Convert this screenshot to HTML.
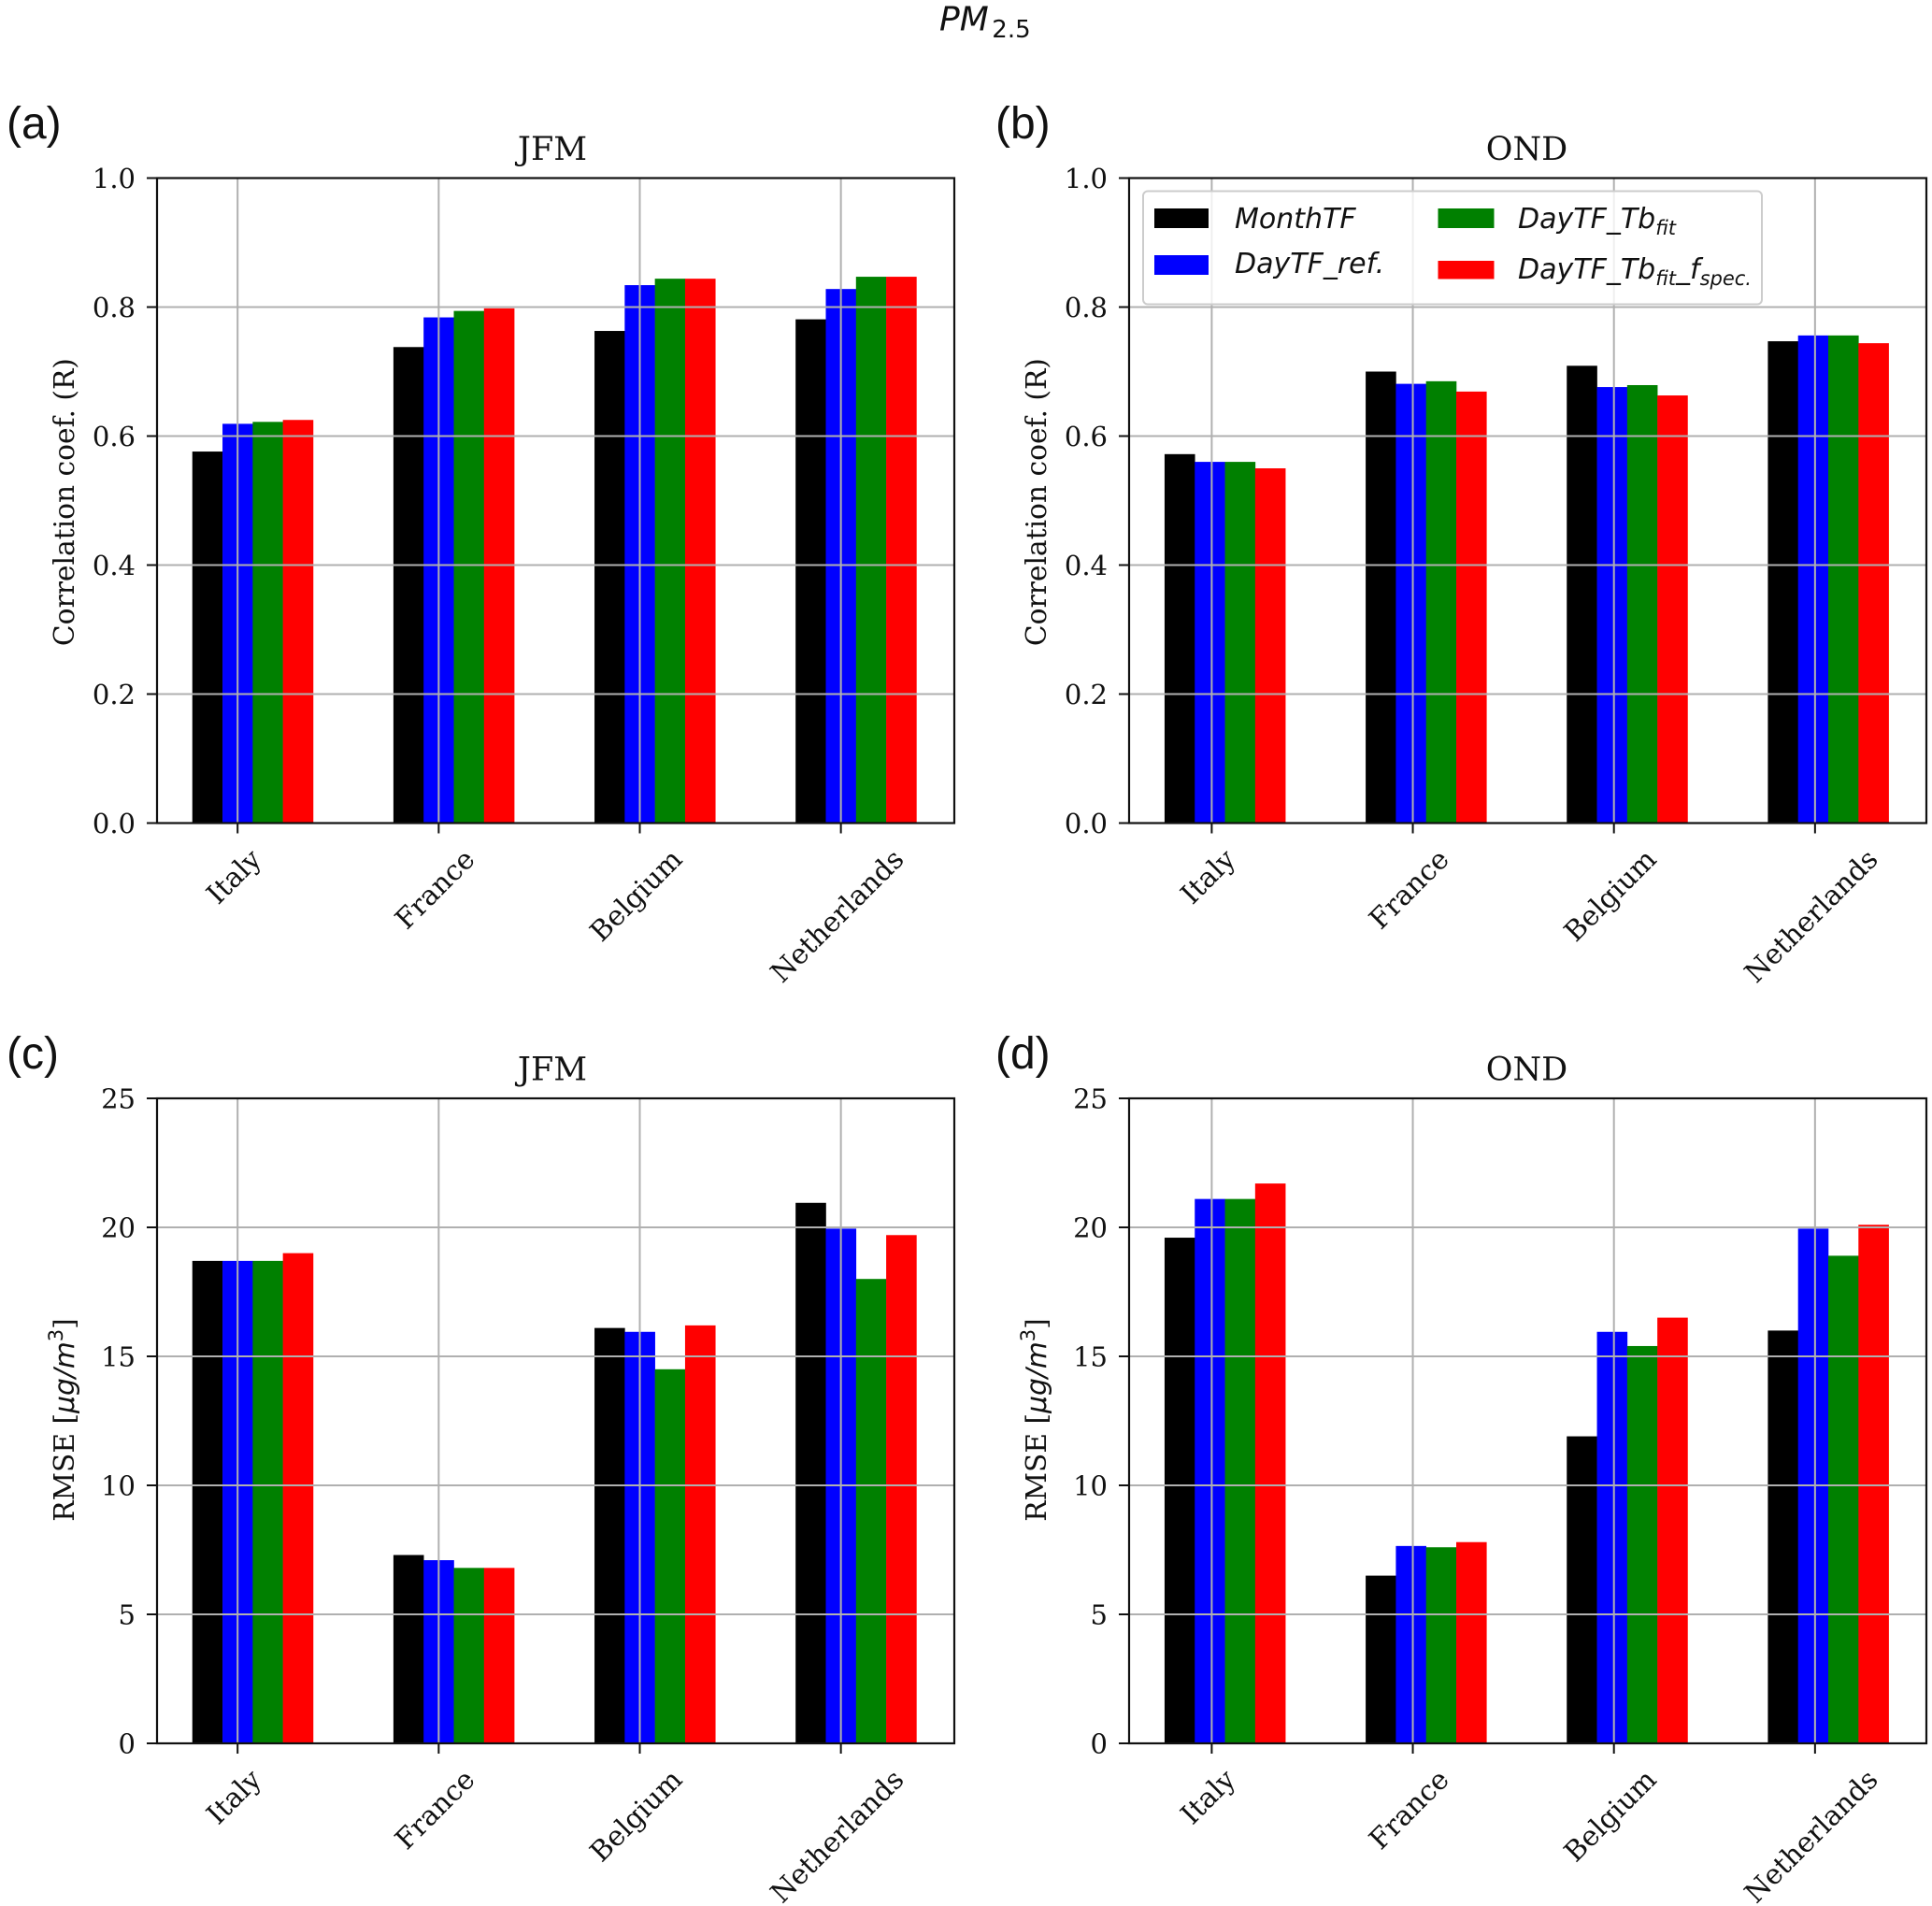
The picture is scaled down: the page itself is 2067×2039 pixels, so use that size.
<!DOCTYPE html>
<html lang="en">
<head>
<meta charset="utf-8">
<title>PM2.5 bar charts</title>
<style>
html,body{margin:0;padding:0;background:#fff;}
svg{display:block;}
.serif{font-family:"DejaVu Serif","Liberation Serif",serif;fill:#111;}
.sans{font-family:"DejaVu Sans","Liberation Sans",sans-serif;fill:#111;}
.letter{font-family:"Liberation Sans",sans-serif;font-size:48px;fill:#111;}
</style>
</head>
<body>
<svg id="figure" xmlns="http://www.w3.org/2000/svg" width="2067" height="2039" viewBox="0 0 2067 2039">
<rect width="2067" height="2039" fill="#fff"></rect>
<text class="sans" x="1005" y="32.7" font-size="36" font-style="italic">PM<tspan dy="7.5" dx="3.5" font-size="26" font-style="normal">2.5</tspan></text>
</svg>
<script>
const categories = ["Italy", "France", "Belgium", "Netherlands"];
const seriesNames = ["MonthTF", "DayTF_ref", "DayTF_Tbfit", "DayTF_Tbfit_fspec"];
const seriesColors = ["#000000", "#0000ff", "#008000", "#ff0000"];

const corrTicks = ["0.0", "0.2", "0.4", "0.6", "0.8", "1.0"];
const rmseTicks = ["0", "5", "10", "15", "20", "25"];

const jfmCorrMonth = [0.576, 0.738, 0.763, 0.781];
const jfmCorrRef = [0.619, 0.784, 0.834, 0.828];
const jfmCorrFit = [0.622, 0.794, 0.844, 0.847];
const jfmCorrSpec = [0.625, 0.798, 0.844, 0.847];

const ondCorrMonth = [0.572, 0.700, 0.709, 0.747];
const ondCorrRef = [0.560, 0.681, 0.676, 0.756];
const ondCorrFit = [0.560, 0.685, 0.679, 0.756];
const ondCorrSpec = [0.550, 0.669, 0.663, 0.744];

const jfmRmseMonth = [18.7, 7.3, 16.1, 20.95];
const jfmRmseRef = [18.7, 7.1, 15.95, 19.95];
const jfmRmseFit = [18.7, 6.8, 14.5, 18.0];
const jfmRmseSpec = [19.0, 6.8, 16.2, 19.7];

const ondRmseMonth = [19.6, 6.5, 11.9, 16.0];
const ondRmseRef = [21.1, 7.65, 15.95, 19.95];
const ondRmseFit = [21.1, 7.6, 15.4, 18.9];
const ondRmseSpec = [21.7, 7.8, 16.5, 20.1];

const NS = "http://www.w3.org/2000/svg";
const fig = document.getElementById("figure");

function mk(tag, parent, props, text) {
  const el = document.createElementNS(NS, tag);
  for (const k in props) el.setAttribute(k, props[k]);
  if (text !== undefined) el.textContent = text;
  parent.appendChild(el);
  return el;
}

function drawPanel(p) {
  const W = 853, H = 690, SPACING = 215.15, BAR = 32.3;
  const x = i => p.left + p.offset + i * SPACING;
  const y = v => p.top + H - (v / p.yMax) * H;

  const g = mk("g", fig, {});
  
  

  // Bars
  p.series.forEach((vals, s) => {
    vals.forEach((v, i) => {
      const r = mk("rect", g, {
        x: x(i) + p.barShift + (s - 1.5) * BAR,
        y: y(v), width: BAR + 0.3, height: y(0) - y(v), fill: seriesColors[s]
      });
      
      
    });
  });

  // Grid and ticks: y
  p.ticks.forEach((t) => {
    const v = parseFloat(t);
    const yy = y(v);
    const gl = mk("line", g, {x1: p.left, x2: p.left + W, y1: yy, y2: yy, stroke: "#b0b0b0", "stroke-width": 2});
    
    
    const tk = mk("line", g, {x1: p.left - 11, x2: p.left, y1: yy, y2: yy, stroke: "#111", "stroke-width": 2});
    
    
    const tl = mk("text", g, {x: p.left - 23, y: yy + 10.5, "text-anchor": "end", "font-size": 29, class: "serif"}, t);
    
    
  });

  // Grid and ticks: x
  categories.forEach((c, i) => {
    const xx = x(i);
    const gl = mk("line", g, {x1: xx, x2: xx, y1: p.top, y2: p.top + H, stroke: "#b0b0b0", "stroke-width": 2});
    
    
    const tk = mk("line", g, {x1: xx, x2: xx, y1: p.top + H, y2: p.top + H + 11, stroke: "#111", "stroke-width": 2});
    
    
    const tl = mk("text", g, {"text-anchor": "middle", "dominant-baseline": "central", "font-size": 29.6, class: "serif"}, c);
    
    
    const len = tl.getComputedTextLength();
    const half = (len + 24) * 0.7071 / 2;
    const cy = p.top + H + 25 + half;
    const cx = xx - 4;
    tl.setAttribute("x", cx);
    tl.setAttribute("y", cy);
    tl.setAttribute("transform", "rotate(-45 " + cx + " " + cy + ")");
  });

  // Spines
  const frame = mk("rect", g, {x: p.left, y: p.top, width: W, height: H, fill: "none", stroke: "#111", "stroke-width": 2.2});
  
  

  // Title
  const ti = mk("text", g, {x: p.titleX, y: p.top - 19.5, "text-anchor": "middle", "font-size": 35, class: "serif"}, p.title);
  
  

  // Y label
  const lx = p.left - 89, ly = p.top + (p.rmse ? 344 : 346.6);
  const yl = mk("text", g, {x: lx, y: ly, "text-anchor": "middle", "font-size": 29.7, class: "serif", transform: "rotate(-90 " + lx + " " + ly + ")"});
  
  
  if (p.rmse) {
    yl.appendChild(document.createTextNode("RMSE ["));
    mk("tspan", yl, {"font-family": "DejaVu Sans, sans-serif", "font-style": "italic"}, "\u03BCg/m");
    mk("tspan", yl, {"font-family": "DejaVu Sans, sans-serif", "font-size": 21, dy: -12}, "3");
    mk("tspan", yl, {dy: 12}, "]");
  } else {
    yl.textContent = "Correlation coef. (R)";
  }

  // Panel letter
  const pl = mk("text", fig, {x: p.letterX, y: p.letterY, class: "letter"}, p.letter);
  
  
}

drawPanel({key: "a", letter: "(a)", letterX: 7, letterY: 148, title: "JFM", titleX: 591, left: 168, offset: 86.2, barShift: 0, top: 190.5, yMax: 1, ticks: corrTicks,
  series: [jfmCorrMonth, jfmCorrRef, jfmCorrFit, jfmCorrSpec]});
drawPanel({key: "b", letter: "(b)", letterX: 1065, letterY: 148, title: "OND", titleX: 1633.5, left: 1208, offset: 88.4, barShift: -2, top: 190.5, yMax: 1, ticks: corrTicks,
  series: [ondCorrMonth, ondCorrRef, ondCorrFit, ondCorrSpec]});
drawPanel({key: "c", letter: "(c)", letterX: 7, letterY: 1143, title: "JFM", titleX: 591, left: 168, offset: 86.2, barShift: 0, top: 1175, yMax: 25, ticks: rmseTicks, rmse: true,
  series: [jfmRmseMonth, jfmRmseRef, jfmRmseFit, jfmRmseSpec]});
drawPanel({key: "d", letter: "(d)", letterX: 1065, letterY: 1143, title: "OND", titleX: 1633.5, left: 1208, offset: 88.4, barShift: -2, top: 1175, yMax: 25, ticks: rmseTicks, rmse: true,
  series: [ondRmseMonth, ondRmseRef, ondRmseFit, ondRmseSpec]});

// Legend
const lg = mk("g", fig, {});


mk("rect", lg, {x: 1223, y: 204.5, width: 662, height: 121, rx: 5, fill: "#fff", "fill-opacity": 0.8, stroke: "#cccccc", "stroke-width": 2});

function legendLabel(name, tx, ty, parts) {
  const t = mk("text", lg, {x: tx, y: ty, class: "sans", "font-size": 30, "font-style": "italic"});
  
  
  let shift = 0;
  parts.forEach(part => {
    const sub = part.charAt(0) === "~";
    const label = sub ? part.slice(1) : part;
    if (sub) {
      mk("tspan", t, {"font-size": 21, dy: 7 - shift}, label);
    } else {
      mk("tspan", t, {dy: -shift}, label);
    }
    shift = sub ? 7 : 0;
  });
  return t;
}

const s1 = mk("rect", lg, {x: 1235, y: 223, width: 58, height: 21, fill: seriesColors[0]});


legendLabel("legend-label-monthtf", 1321, 244, ["MonthTF"]);

const s2 = mk("rect", lg, {x: 1235, y: 273, width: 58, height: 21, fill: seriesColors[1]});


legendLabel("legend-label-daytf-ref", 1321, 292, ["DayTF_ref."]);

const s3 = mk("rect", lg, {x: 1538.5, y: 223, width: 60, height: 21, fill: seriesColors[2]});


legendLabel("legend-label-daytf-tbfit", 1624, 244, ["DayTF_Tb", "~fit"]);

const s4 = mk("rect", lg, {x: 1538.5, y: 279, width: 60, height: 19.5, fill: seriesColors[3]});


legendLabel("legend-label-daytf-tbfit-fspec", 1624, 298, ["DayTF_Tb", "~fit", "_f", "~spec."]);
</script>
</body>
</html>
